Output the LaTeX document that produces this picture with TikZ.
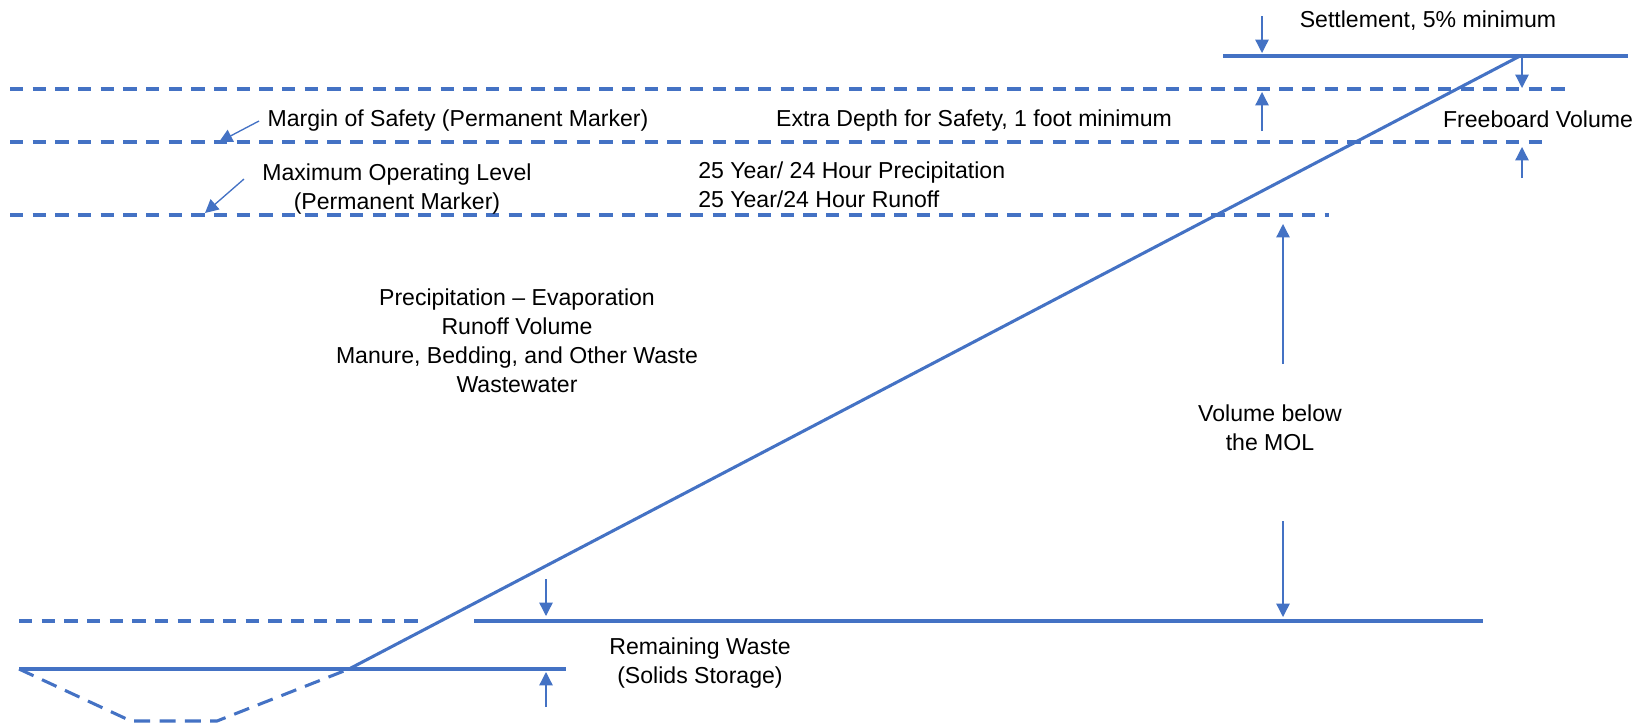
\documentclass[tikz,border=0pt]{standalone}
\usepackage{fontspec}
\setmainfont{Liberation Sans}
\usetikzlibrary{arrows.meta}
\definecolor{ob}{HTML}{4472C4}
\tikzset{
  wall/.style={draw=ob,line width=2.3pt},
  dashline/.style={draw=ob,line width=2.3pt,dash pattern=on 10pt off 7pt},
  vdash/.style={draw=ob,line width=2.3pt,dash pattern=on 12pt off 7pt},
  arr/.style={draw=ob,line width=1pt,-{Triangle[width=10pt,length=10pt]}},
  lbl/.style={inner sep=0pt,align=center,text=black},
}
\begin{document}
\begin{tikzpicture}[x=0.75pt,y=-0.75pt,font=\fontsize{17.3}{21.75}\selectfont]
\useasboundingbox (0,0) rectangle (1643,725);
% levels
\coordinate (topL) at (1223,56);
\coordinate (topR) at (1628,56);
\coordinate (d1L) at (10,89);
\coordinate (d1R) at (1566,89);
\coordinate (d2L) at (10,142);
\coordinate (d2R) at (1548,142);
\coordinate (d3L) at (10,215);
\coordinate (d3R) at (1329,215);
\coordinate (slB) at (349,669);
\coordinate (slT) at (1520,56);
\coordinate (rwL) at (474,621);
\coordinate (rwR) at (1483,621);
\coordinate (rdL) at (19,621);
\coordinate (rdR) at (422,621);
\coordinate (btL) at (19,669);
\coordinate (btR) at (566,669);
\coordinate (v1) at (131,721);
\coordinate (v2) at (217,721);

\draw[wall] (topL) -- (topR);
\draw[dashline] (d1L) -- (d1R);
\draw[dashline] (d2L) -- (d2R);
\draw[dashline] (d3L) -- (d3R);
\draw[wall] (slB) -- (slT);
\draw[wall] (rwL) -- (rwR);
\draw[dashline] (rdL) -- (rdR);
\draw[wall] (btL) -- (btR);
\draw[vdash] (btL) -- (v1) -- (v2) -- (slB);

% arrows
\coordinate (a1s) at (1262,16);   \coordinate (a1e) at (1262,53);
\coordinate (a2s) at (1262,131);  \coordinate (a2e) at (1262,92);
\coordinate (a3s) at (1522,58);   \coordinate (a3e) at (1522,88);
\coordinate (a4s) at (1522,178);  \coordinate (a4e) at (1522,147);
\coordinate (a5s) at (1283,364);  \coordinate (a5e) at (1283,224);
\coordinate (a6s) at (1283,521);  \coordinate (a6e) at (1283,617);
\coordinate (a7s) at (546,579);   \coordinate (a7e) at (546,616);
\coordinate (a8s) at (546,707);   \coordinate (a8e) at (546,672);
\coordinate (p1s) at (259,121);   \coordinate (p1e) at (219,142);
\coordinate (p2s) at (244,179);   \coordinate (p2e) at (205,213);
\foreach \a in {a1,a2,a3,a4,a5,a6,a7,a8,p1,p2}
  \draw[arr] (\a s) -- (\a e);

% labels
\node[lbl] (settle) at (1428,21) {Settlement, 5\% minimum};
\node[lbl] (free) at (1538,119) {Freeboard Volume};
\node[lbl] (extra) at (974,121) {Extra Depth for Safety, 1 foot minimum};
\node[lbl] (margin) at (458,121) {Margin of Safety (Permanent Marker)};
\node[lbl] (mol) at (397,189) {Maximum Operating Level\\(Permanent Marker)};
\node[lbl,anchor=west,align=left] (storm) at (698,185) {25 Year/ 24 Hour Precipitation\\25 Year/24 Hour Runoff};
\node[lbl] (inputs) at (517,341) {Precipitation -- Evaporation\\Runoff Volume\\Manure, Bedding, and Other Waste\\Wastewater};
\node[lbl] (below) at (1270,428) {Volume below\\the MOL};
\node[lbl] (remain) at (700,663) {Remaining Waste\\(Solids Storage)};
\end{tikzpicture}
\end{document}
